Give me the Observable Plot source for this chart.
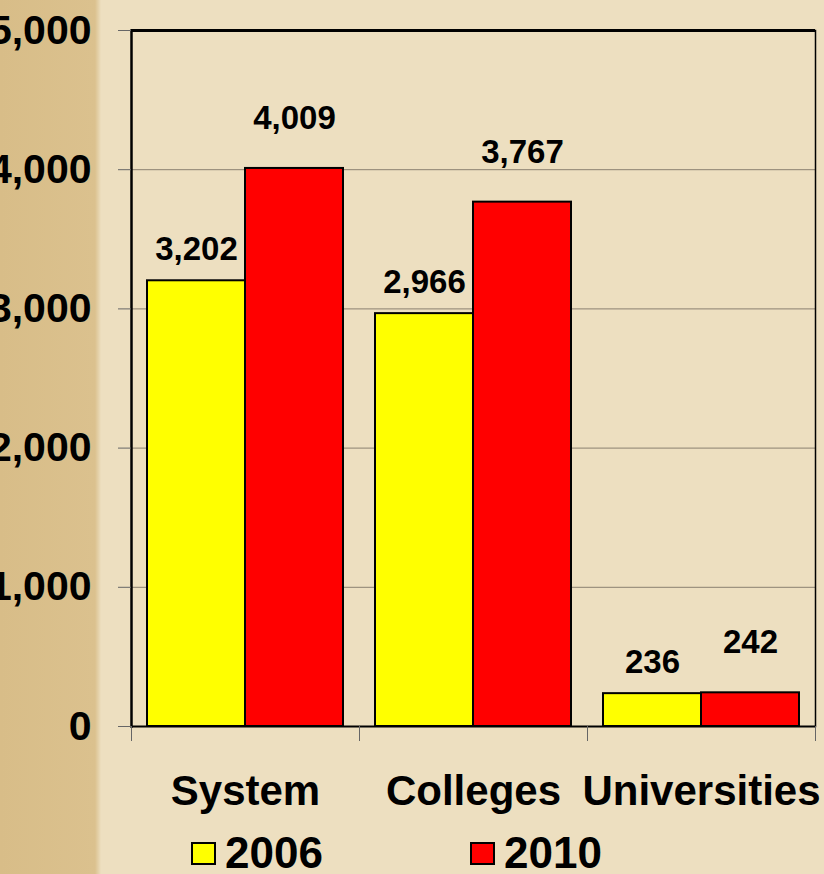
<!DOCTYPE html>
<html>
<head>
<meta charset="utf-8">
<script src="https://cdn.jsdelivr.net/npm/d3@7"></script>
<script src="https://cdn.jsdelivr.net/npm/@observablehq/plot@0.6"></script>
<style>
  html, body { margin: 0; padding: 0; }
  body {
    width: 824px; height: 874px; overflow: hidden;
    background: linear-gradient(to right, #D8BD88 0px, #DBC18E 95px, #E6D4AE 99px, #EDDFC0 101px, #EDDFC0 100%);
    font-family: "Liberation Sans", Arial, sans-serif;
  }
  #legend { position: relative; height: 54px; }
  .item { position: absolute; top: 6px; height: 54px; display: flex; align-items: center; font-size: 44px; font-weight: bold; color: #000; }
  .sw { width: 21px; height: 19px; border: 2px solid #000; margin-right: 9px; }
</style>
</head>
<body>
<div id="chart"></div>
<div id="legend"></div>
<script>
const categories = ["System", "Colleges", "Universities"];
const years = ["2006", "2010"];
const values2006 = [3202, 2966, 236];
const values2010 = [4009, 3767, 242];
const yTicks = [0, 1000, 2000, 3000, 4000, 5000];
const gridTicks = [1000, 2000, 3000, 4000];
const colors = ["#FFFF00", "#FF0000"];

const rows = categories.flatMap((c, i) => [
  {category: c, year: years[0], value: values2006[i]},
  {category: c, year: years[1], value: values2010[i]}
]);
const fmt = d3.format(",");

const chart = Plot.plot({
  width: 824, height: 820,
  marginLeft: 130, marginRight: 9, marginTop: 30, marginBottom: 94,
  style: {background: "transparent", fontFamily: "'Liberation Sans', Arial, sans-serif", overflow: "visible", color: "#000"},
  fx: {domain: categories, padding: 0, label: null},
  x: {domain: years, paddingInner: 0, paddingOuter: 0.153, axis: null},
  y: {domain: [0, 5000], label: null},
  color: {domain: years, range: colors},
  marks: [
    Plot.ruleY(gridTicks, {stroke: "#8a8070", strokeWidth: 1}),
    Plot.barY(rows, {fx: "category", x: "year", y: "value", fill: "year", stroke: "#000", strokeWidth: 2}),
    Plot.ruleY([5000], {stroke: "#000", strokeWidth: 3}),
    Plot.ruleY([0], {stroke: "#000", strokeWidth: 2}),
    Plot.frame({anchor: "left", facetAnchor: "left", stroke: "#000", strokeWidth: 2.5}),
    Plot.frame({anchor: "right", facetAnchor: "right", stroke: "#000", strokeWidth: 1.5}),
    Plot.frame({anchor: "left", insetTop: 696, insetBottom: -14, stroke: "#666"}),
    Plot.frame({anchor: "right", facetAnchor: "right", insetTop: 696, insetBottom: -14, stroke: "#666"}),
    Plot.axisY({ticks: yTicks, tickFormat: fmt, tickSize: 13, tickPadding: 27, fontSize: 41, fontWeight: "bold", stroke: "#666", label: null}),
    Plot.axisFx({anchor: "bottom", tickSize: 0, tickPadding: 49, fontSize: 42, fontWeight: "bold", label: null}),
    Plot.text(rows.filter(d => d.year === years[0]), {fx: "category", x: "year", y: "value", text: d => fmt(d.value), dy: -31, fontSize: 33, fontWeight: "bold", fill: "#000"}),
    Plot.text(rows.filter(d => d.year === years[1]), {fx: "category", x: "year", y: "value", text: d => fmt(d.value), dy: -50, fontSize: 33, fontWeight: "bold", fill: "#000"})
  ]
});
document.getElementById("chart").appendChild(chart);

const legend = document.getElementById("legend");
const legendLeft = [191, 470];
years.forEach((y, i) => {
  const item = document.createElement("div");
  item.className = "item";
  item.style.left = legendLeft[i] + "px";
  const sw = document.createElement("div");
  sw.className = "sw";
  sw.style.background = colors[i];
  const t = document.createElement("span");
  t.textContent = y;
  item.appendChild(sw);
  item.appendChild(t);
  legend.appendChild(item);
});
</script>
</body>
</html>
